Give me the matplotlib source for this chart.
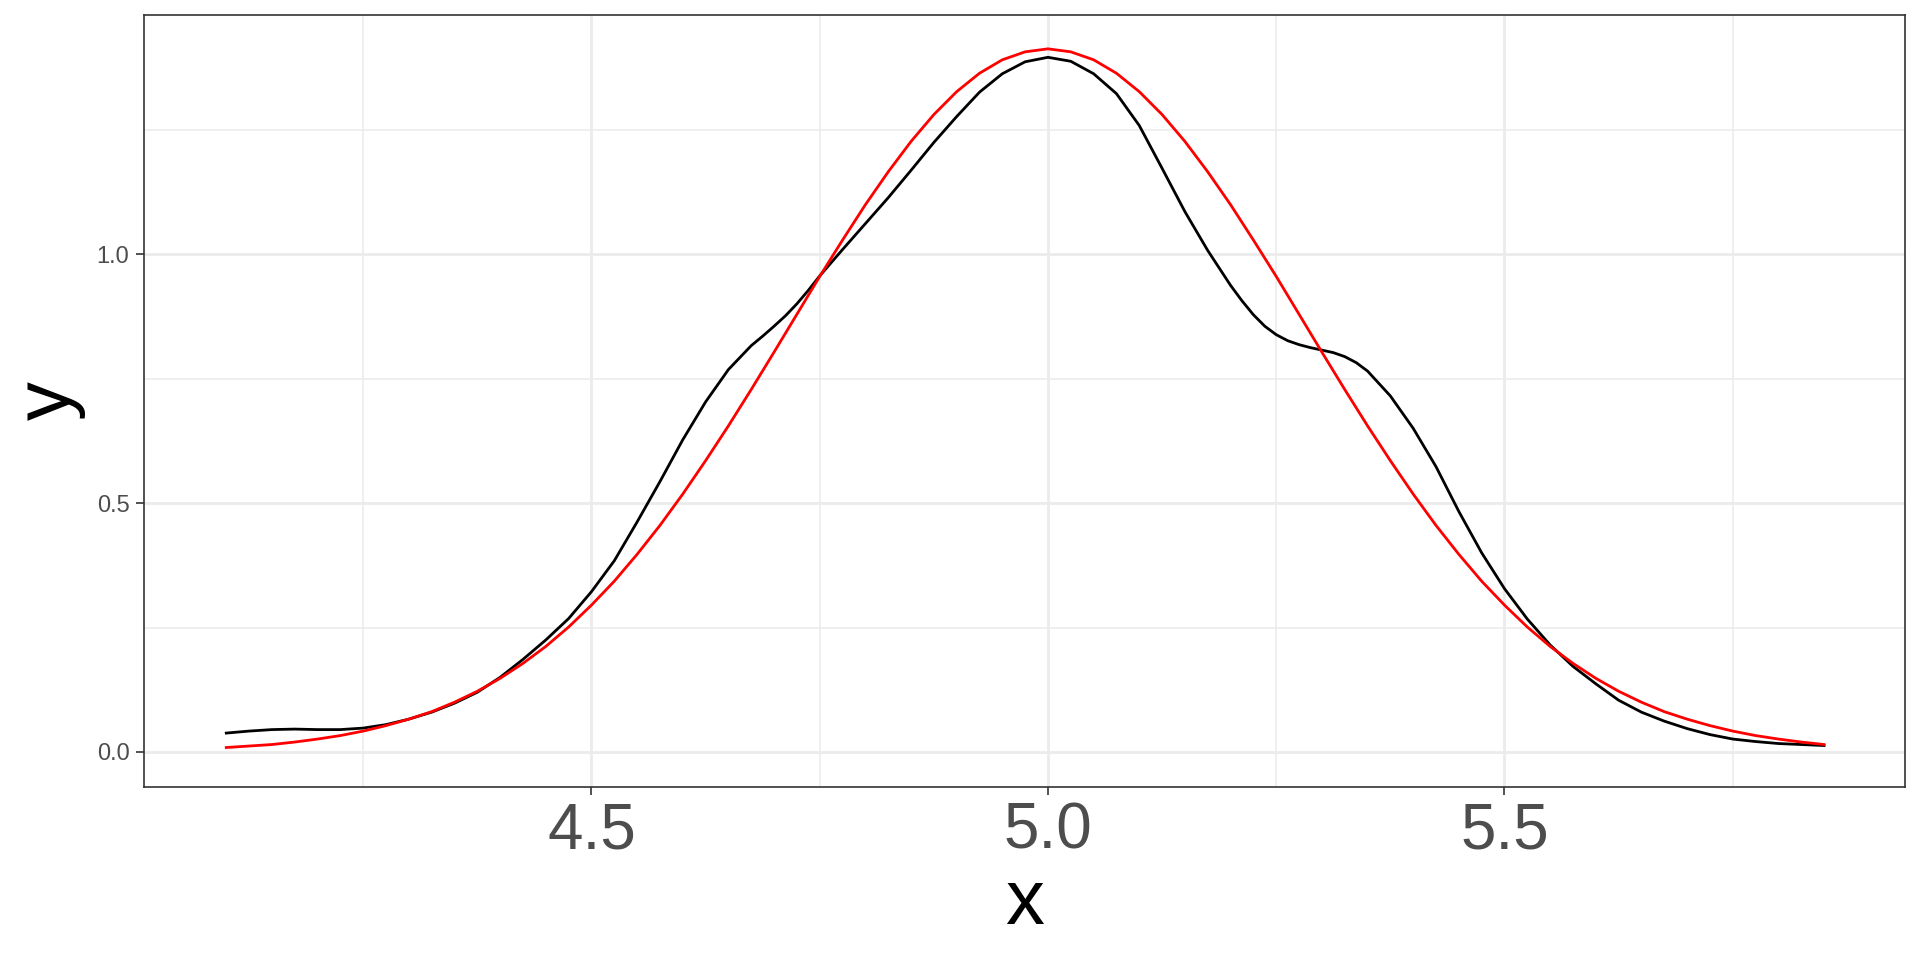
import matplotlib
matplotlib.use("Agg")
import matplotlib.pyplot as plt
from matplotlib.ticker import FixedLocator

plt.rcParams['font.family'] = ['Liberation Sans', 'DejaVu Sans']

# density estimate (black)
dens_x = [4.100, 4.125, 4.150, 4.175, 4.200, 4.225, 4.250, 4.275, 4.300, 4.325,
          4.350, 4.375, 4.400, 4.425, 4.450, 4.475, 4.500, 4.525, 4.550, 4.575,
          4.600, 4.625, 4.650, 4.675, 4.6875, 4.700, 4.7125, 4.725, 4.7375, 4.750,
          4.775, 4.800, 4.825, 4.850, 4.875, 4.900, 4.925, 4.950, 4.975, 5.000,
          5.025, 5.050, 5.075, 5.100, 5.125, 5.150, 5.175, 5.200, 5.2125, 5.225,
          5.2375, 5.250, 5.2625, 5.275, 5.2875, 5.300, 5.3125, 5.325, 5.3375, 5.350,
          5.375, 5.400, 5.425, 5.450, 5.475, 5.500, 5.525, 5.550, 5.575, 5.600,
          5.625, 5.650, 5.675, 5.700, 5.725, 5.750, 5.775, 5.800, 5.825, 5.850]
dens_y = [0.038, 0.042, 0.045, 0.046, 0.045, 0.045, 0.048, 0.055, 0.066, 0.080,
          0.098, 0.120, 0.150, 0.186, 0.225, 0.268, 0.322, 0.384, 0.462, 0.543,
          0.627, 0.703, 0.768, 0.816, 0.835, 0.855, 0.876, 0.900, 0.927, 0.956,
          1.009, 1.061, 1.113, 1.168, 1.224, 1.276, 1.325, 1.362, 1.386, 1.395,
          1.387, 1.362, 1.322, 1.258, 1.172, 1.085, 1.007, 0.937, 0.906, 0.878,
          0.855, 0.838, 0.826, 0.818, 0.812, 0.807, 0.802, 0.794, 0.782, 0.765,
          0.715, 0.650, 0.573, 0.483, 0.400, 0.328, 0.267, 0.215, 0.172, 0.137,
          0.104, 0.080, 0.062, 0.047, 0.035, 0.026, 0.021, 0.017, 0.015, 0.013]

# normal curve (red)
norm_x = [4.100, 4.125, 4.150, 4.175, 4.200, 4.225, 4.250, 4.275, 4.300, 4.325,
          4.350, 4.375, 4.400, 4.425, 4.450, 4.475, 4.500, 4.525, 4.550, 4.575,
          4.600, 4.625, 4.650, 4.675, 4.700, 4.725, 4.750, 4.775, 4.800, 4.825,
          4.850, 4.875, 4.900, 4.925, 4.950, 4.975, 5.000, 5.025, 5.050, 5.075,
          5.100, 5.125, 5.150, 5.175, 5.200, 5.225, 5.250, 5.275, 5.300, 5.325,
          5.350, 5.375, 5.400, 5.425, 5.450, 5.475, 5.500, 5.525, 5.550, 5.575,
          5.600, 5.625, 5.650, 5.675, 5.700, 5.725, 5.750, 5.775, 5.800, 5.825,
          5.850]
norm_y = [0.009, 0.012, 0.015, 0.020, 0.026, 0.033, 0.042, 0.053, 0.066, 0.081,
          0.100, 0.122, 0.148, 0.178, 0.212, 0.251, 0.295, 0.343, 0.397, 0.455,
          0.518, 0.585, 0.655, 0.728, 0.803, 0.879, 0.955, 1.028, 1.099, 1.165,
          1.226, 1.280, 1.326, 1.363, 1.390, 1.406, 1.412, 1.406, 1.390, 1.363,
          1.326, 1.280, 1.226, 1.165, 1.099, 1.028, 0.955, 0.879, 0.803, 0.728,
          0.655, 0.585, 0.518, 0.455, 0.397, 0.343, 0.295, 0.251, 0.212, 0.178,
          0.148, 0.122, 0.100, 0.081, 0.066, 0.053, 0.042, 0.033, 0.026, 0.020,
          0.015]

x_major = [4.5, 5.0, 5.5]
x_minor = [4.25, 4.75, 5.25, 5.75]
y_major = [0.0, 0.5, 1.0]
y_minor = [0.25, 0.75, 1.25]

fig = plt.figure(figsize=(19.2, 9.6), dpi=100)
ax = fig.add_axes([0.075, 0.1802, 0.9172, 0.8042])

ax.plot(dens_x, dens_y, color='black', lw=2.0, zorder=3, solid_joinstyle='round')
ax.plot(norm_x, norm_y, color='red', lw=2.0, zorder=4, solid_joinstyle='round')

ax.set_xlim(4.0099, 5.9387)
ax.set_ylim(-0.0703, 1.480)

ax.xaxis.set_major_locator(FixedLocator(x_major))
ax.xaxis.set_minor_locator(FixedLocator(x_minor))
ax.yaxis.set_major_locator(FixedLocator(y_major))
ax.yaxis.set_minor_locator(FixedLocator(y_minor))
ax.set_xticklabels(['4.5', '5.0', '5.5'])
ax.set_yticklabels(['0.0', '0.5', '1.0'])

ax.grid(which='major', color='#EBEBEB', lw=2.0, zorder=0)
ax.grid(which='minor', color='#EBEBEB', lw=1.1, zorder=0)
ax.set_axisbelow(True)

ax.tick_params(axis='both', which='major', length=5.5, width=1.2, color='#333333',
               labelcolor='#4D4D4D', pad=5)
ax.tick_params(axis='x', which='major', labelsize=46)
ax.tick_params(axis='y', which='major', labelsize=17)
ax.tick_params(which='minor', length=0)

for s in ax.spines.values():
    s.set_color('#333333')
    s.set_linewidth(1.2)

ax.set_xlabel('x', fontsize=56, color='black', labelpad=4)
ax.set_ylabel('y', fontsize=56, color='black', labelpad=8)

fig.savefig('out.png', dpi=100)
